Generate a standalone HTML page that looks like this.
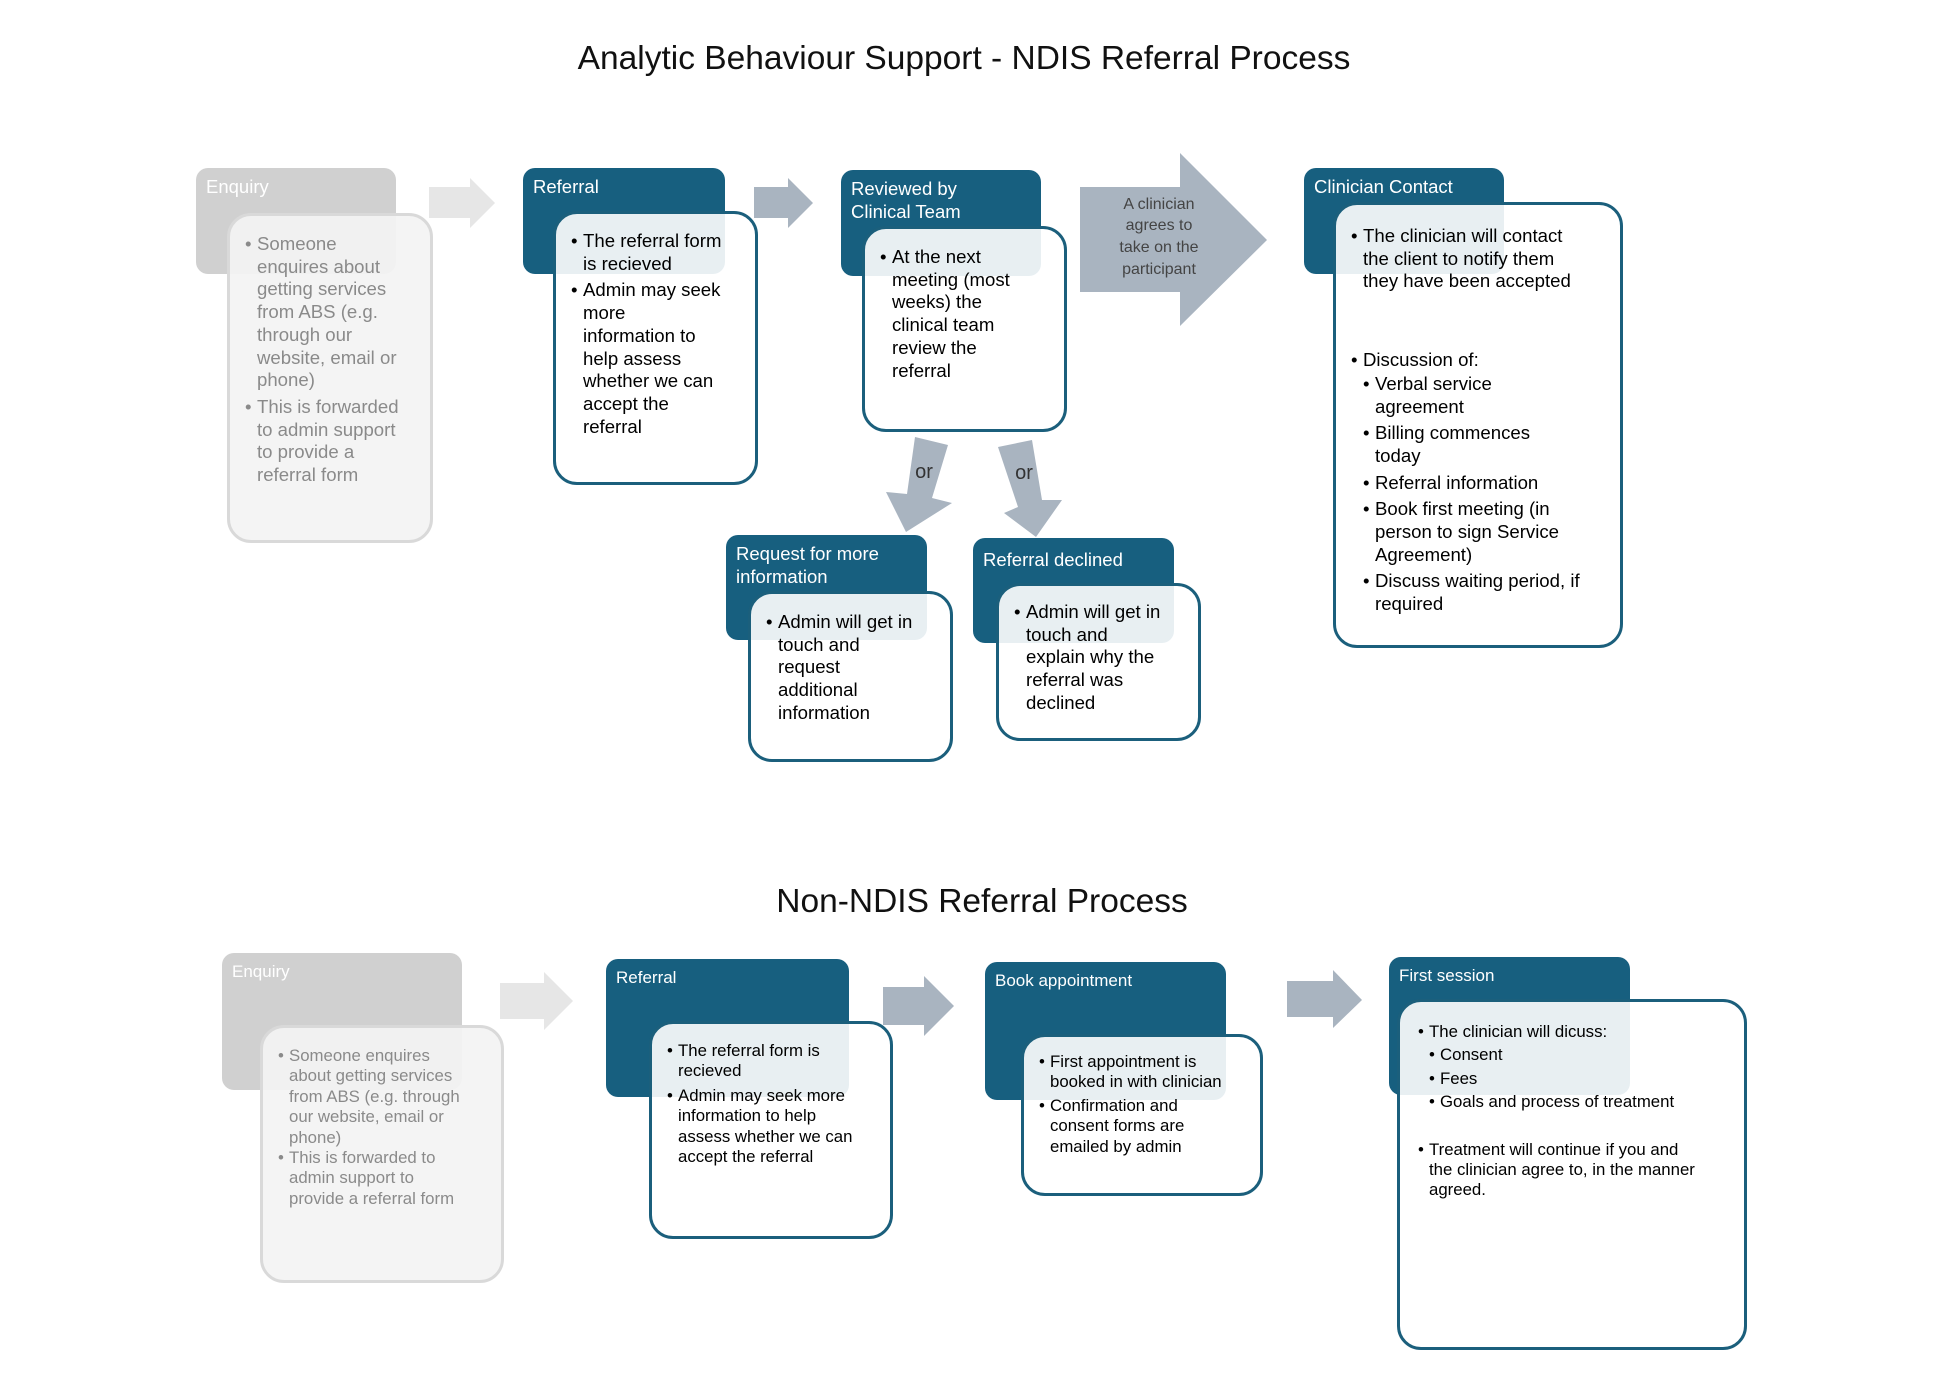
<!DOCTYPE html>
<html><head><meta charset="utf-8"><style>
*{margin:0;padding:0;box-sizing:border-box}
body{width:1948px;height:1377px;background:#fff;position:relative;overflow:hidden;font-family:"Liberation Sans",sans-serif;color:#111}
.t{position:absolute;left:0;width:1948px;text-align:center;font-size:33.5px;color:#111}
.h{position:absolute;background:#175f7f;border-radius:12px;color:#fff;font-size:18.5px;line-height:23px;padding:7px 10px;white-space:nowrap}
.h.g{background:#d0d0d0}
.b{position:absolute;border:3px solid #1b5f7c;border-radius:24px;background:rgba(255,255,255,0.9);font-size:18.6px;line-height:22.7px;white-space:nowrap;padding-left:17px;color:#000}
.b.g{border-color:#d9d9d9;background:rgba(243,243,243,0.93);color:#8a8a8a}
.li{position:relative;padding-left:10px;margin-bottom:4px}
.li:before{content:"•";position:absolute;left:-2px;top:0}
.sub{margin-left:12px}
.s .li{padding-left:9px;margin-bottom:0}
.s{font-size:16.8px;line-height:20.4px}
.hs{font-size:17px}
</style></head><body>
<div class="t" style="top:40px;left:-10px">Analytic Behaviour Support - NDIS Referral Process</div>
<div class="t" style="top:883px;left:8px">Non-NDIS Referral Process</div>

<svg style="position:absolute;left:0;top:0" width="1948" height="1377">
<polygon points="429,187 470,187 470,178 495,203 470,228 470,218 429,218" fill="#e6e6e6"/>
<polygon points="754,187 788,187 788,178 813,203 788,228 788,218 754,218" fill="#a9b4c0"/>
<polygon points="1080,187 1180,187 1180,153 1267,240 1180,326 1180,292 1080,292" fill="#a9b4c0"/>
<polygon points="915,437 948,445 932,498 952,503 906,532 886,492 907,494" fill="#a9b4c0"/>
<polygon points="998,447 1032,440 1042,500 1062,500 1036,537 1004,513 1018,507" fill="#a9b4c0"/>
<polygon points="500,983 544,983 544,972 573,1001 544,1030 544,1019 500,1019" fill="#e6e6e6"/>
<polygon points="883,987 924,987 924,976 954,1006 924,1036 924,1025 883,1025" fill="#a9b4c0"/>
<polygon points="1287,981 1333,981 1333,970 1362,1000 1333,1028 1333,1017 1287,1017" fill="#a9b4c0"/>
<text x="1159" y="209" font-size="16" fill="#444" text-anchor="middle" font-family="Liberation Sans">A clinician</text>
<text x="1159" y="230" font-size="16" fill="#444" text-anchor="middle" font-family="Liberation Sans">agrees to</text>
<text x="1159" y="252" font-size="16" fill="#444" text-anchor="middle" font-family="Liberation Sans">take on the</text>
<text x="1159" y="274" font-size="16" fill="#444" text-anchor="middle" font-family="Liberation Sans">participant</text>
<text x="924" y="478" font-size="20" fill="#333" text-anchor="middle" font-family="Liberation Sans">or</text>
<text x="1024" y="479" font-size="20" fill="#333" text-anchor="middle" font-family="Liberation Sans">or</text>
</svg>

<!-- Row 1 -->
<div class="h g" style="left:196px;top:168px;width:200px;height:106px">Enquiry</div>
<div class="b g" style="left:227px;top:213px;width:206px;height:330px;padding-top:17px">
<div class="li">Someone<br>enquires about<br>getting services<br>from ABS (e.g.<br>through our<br>website, email or<br>phone)</div>
<div class="li">This is forwarded<br>to admin support<br>to provide a<br>referral form</div></div>

<div class="h" style="left:523px;top:168px;width:202px;height:106px">Referral</div>
<div class="b" style="left:553px;top:211px;width:205px;height:274px;padding-top:16px">
<div class="li">The referral form<br>is recieved</div>
<div class="li">Admin may seek<br>more<br>information to<br>help assess<br>whether we can<br>accept the<br>referral</div></div>

<div class="h" style="left:841px;top:170px;width:200px;height:106px">Reviewed by<br>Clinical Team</div>
<div class="b" style="left:862px;top:226px;width:205px;height:206px;padding-top:17px">
<div class="li">At the next<br>meeting (most<br>weeks) the<br>clinical team<br>review the<br>referral</div></div>

<div class="h" style="left:1304px;top:168px;width:200px;height:106px">Clinician Contact</div>
<div class="b" style="left:1333px;top:202px;width:290px;height:446px;padding-top:20px">
<div class="li">The clinician will contact<br>the client to notify them<br>they have been accepted</div>
<div style="height:52px"></div>
<div class="li" style="margin-bottom:1px">Discussion of:</div>
<div class="sub">
<div class="li">Verbal service<br>agreement</div>
<div class="li">Billing commences<br>today</div>
<div class="li">Referral information</div>
<div class="li">Book first meeting (in<br>person to sign Service<br>Agreement)</div>
<div class="li">Discuss waiting period, if<br>required</div></div></div>

<div class="h" style="left:726px;top:535px;width:201px;height:105px">Request for more<br>information</div>
<div class="b" style="left:748px;top:591px;width:205px;height:171px;padding-top:17px">
<div class="li">Admin will get in<br>touch and<br>request<br>additional<br>information</div></div>

<div class="h" style="left:973px;top:538px;width:201px;height:105px;padding-top:10px">Referral declined</div>
<div class="b" style="left:996px;top:583px;width:205px;height:158px;padding-top:15px">
<div class="li">Admin will get in<br>touch and<br>explain why the<br>referral was<br>declined</div></div>

<!-- Row 2 -->
<div class="h g hs" style="left:222px;top:953px;width:240px;height:137px">Enquiry</div>
<div class="b g s" style="left:260px;top:1025px;width:244px;height:258px;padding-top:18px">
<div class="li">Someone enquires<br>about getting services<br>from ABS (e.g. through<br>our website, email or<br>phone)</div>
<div class="li">This is forwarded to<br>admin support to<br>provide a referral form</div></div>

<div class="h hs" style="left:606px;top:959px;width:243px;height:138px">Referral</div>
<div class="b s" style="left:649px;top:1021px;width:244px;height:218px;padding-top:17px">
<div class="li">The referral form is<br>recieved</div>
<div class="li" style="margin-top:4px">Admin may seek more<br>information to help<br>assess whether we can<br>accept the referral</div></div>

<div class="h hs" style="left:985px;top:962px;width:241px;height:138px">Book appointment</div>
<div class="b s" style="left:1021px;top:1034px;width:242px;height:162px;padding-top:15px">
<div class="li">First appointment is<br>booked in with clinician</div>
<div class="li" style="margin-top:3px">Confirmation and<br>consent forms are<br>emailed by admin</div></div>

<div class="h hs" style="left:1389px;top:957px;width:241px;height:138px">First session</div>
<div class="b s" style="left:1397px;top:999px;width:350px;height:351px;padding-top:20px;padding-left:20px">
<div class="li" style="margin-bottom:3px">The clinician will dicuss:</div>
<div class="sub" style="margin-left:11px">
<div class="li" style="margin-bottom:3px">Consent</div>
<div class="li" style="margin-bottom:3px">Fees</div>
<div class="li">Goals and process of treatment</div></div>
<div style="height:27px"></div>
<div class="li">Treatment will continue if you and<br>the clinician agree to, in the manner<br>agreed.</div></div>
</body></html>
